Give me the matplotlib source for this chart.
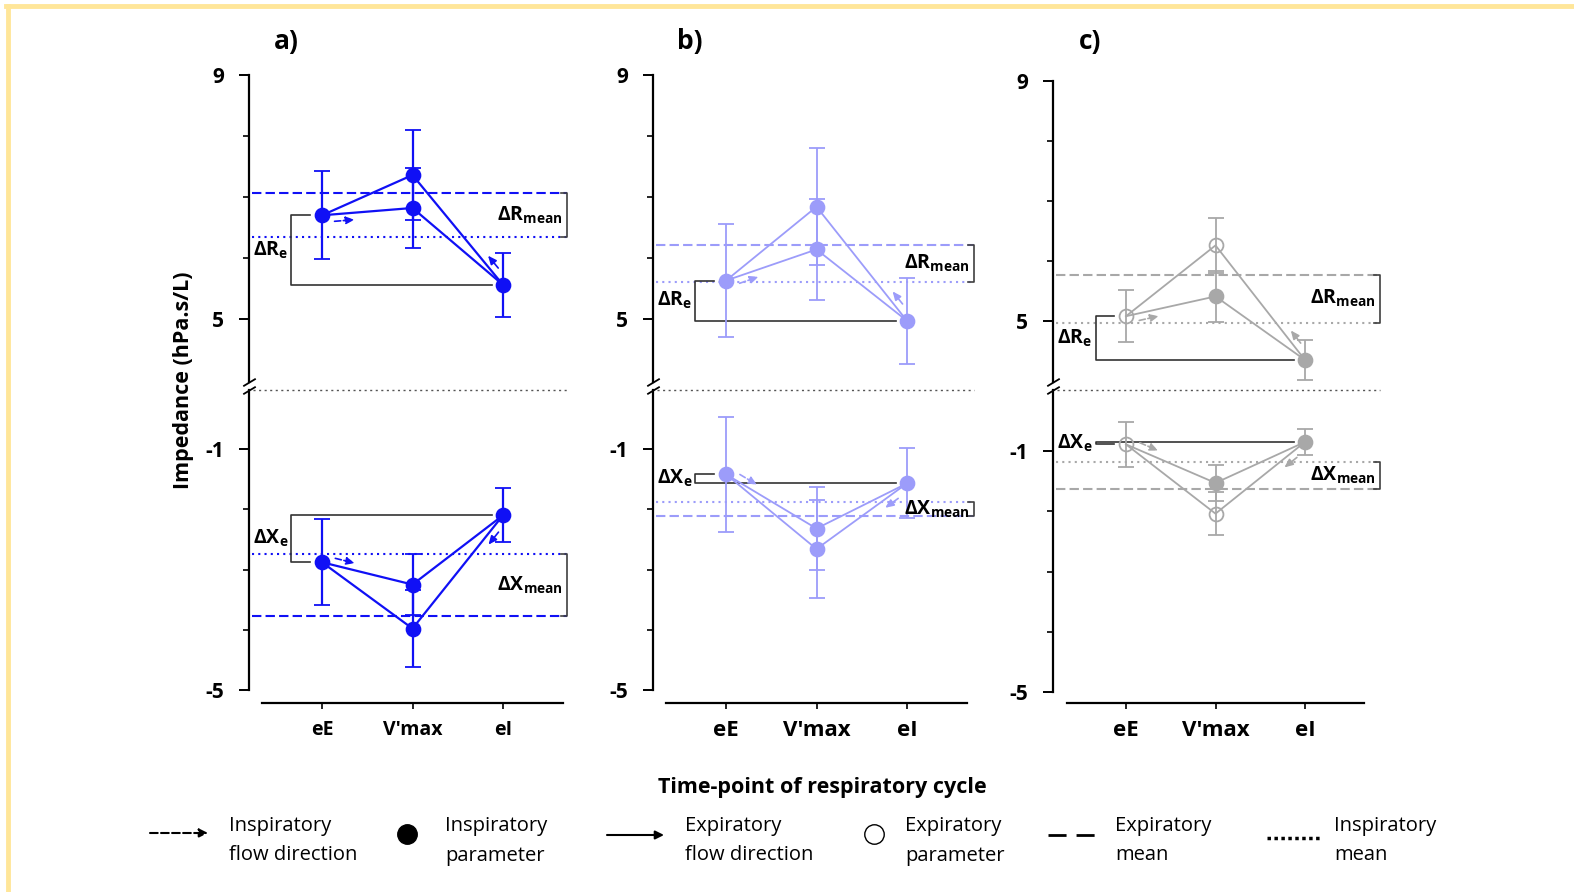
import matplotlib
matplotlib.use('Agg')
import matplotlib.pyplot as plt
import numpy as np
from matplotlib.lines import Line2D

plt.rcParams['font.family'] = ['Open Sans', 'DejaVu Sans']
plt.rcParams['mathtext.fontset'] = 'custom'
plt.rcParams['mathtext.rm'] = 'Open Sans'
plt.rcParams['mathtext.bf'] = 'Open Sans:bold'
plt.rcParams['mathtext.it'] = 'Open Sans:italic'

categories = ['eE', "V'max", 'eI']
panel_labels = ['a)', 'b)', 'c)']
colors = ['#1010F5', '#9C9CFA', '#A8A8A8']
open_exp = [False, False, True]   # expiratory points drawn as open circles

# resistance (upper half): eE, V'max inspiratory, V'max expiratory, eI
r_ee = [6.70, 5.63, 5.08]
r_vi = [6.82, 6.14, 5.41]
r_ve = [7.36, 6.84, 6.26]
r_ei = [5.56, 4.97, 4.35]
r_ee_sd = [0.72, 0.93, 0.43]
r_vi_sd = [0.65, 0.83, 0.43]
r_ve_sd = [0.74, 0.96, 0.46]
r_ei_sd = [0.53, 0.70, 0.34]
r_mean_exp = [7.07, 6.22, 5.77]
r_mean_insp = [6.34, 5.60, 4.97]

# reactance (lower half)
x_ee = [-2.88, -1.42, -0.89]
x_vi = [-3.25, -2.32, -1.53]
x_ve = [-3.98, -2.66, -2.04]
x_ei = [-2.10, -1.57, -0.85]
x_ee_sd = [0.71, 0.95, 0.37]
x_vi_sd = [0.50, 0.69, 0.30]
x_ve_sd = [0.64, 0.82, 0.36]
x_ei_sd = [0.45, 0.58, 0.21]
x_mean_exp = [-3.78, -2.11, -1.63]
x_mean_insp = [-2.75, -1.88, -1.19]

# layout of each panel in pixels: spine x, eE x, px per category, y of 9, 5, -1, -5
geom = [(249, 322, 90.5, 75, 319, 449, 690),
        (653, 726, 90.5, 75, 319, 449, 690),
        (1053, 1126, 89.5, 81, 321, 451, 692)]
bracket_x = [2.71, 2.74, 2.84]
cat_fs = [14, 16, 16]

W, H = 1574, 892
fig = plt.figure(figsize=(W / 100, H / 100), dpi=100)

# pale yellow frame on top and left
fig.add_artist(Line2D([6 / W, 1], [1 - 6 / H] * 2, color='#FFE699', lw=3.5))
fig.add_artist(Line2D([8 / W] * 2, [0, 1 - 6 / H], color='#FFE699', lw=3.5))


def px_axes(x0, y0, x1, y1):
    return fig.add_axes([x0 / W, 1 - y1 / H, (x1 - x0) / W, (y1 - y0) / H])


def flow_arrow(ax, p0, p1, dist, length, side, ls, color):
    a = ax.transData.transform(p0)
    b = ax.transData.transform(p1)
    u = (b - a) / np.hypot(*(b - a))
    n = np.array([-u[1], u[0]])
    if (side == 'right' and n[0] < 0) or (side == 'up' and n[1] < 0) or (side == 'down' and n[1] > 0):
        n = -n
    s = a + u * dist + n * 7
    e = s + u * length
    ax.annotate('', xy=e, xytext=s, xycoords='figure pixels', textcoords='figure pixels',
                arrowprops=dict(arrowstyle='-|>,head_length=0.5,head_width=0.22', ls=ls,
                                lw=1.2, color=color, shrinkA=0, shrinkB=0))


def draw_half(ax, ee, vi, ve, ei, sds, m_exp, m_insp, color, opn, xlo, xb, name, top):
    lw = 1.6 if color == colors[0] else 1.3
    ax.plot([0, 1, 2], [ee, vi, ei], color=color, lw=lw, zorder=2)
    ax.plot([0, 1, 2], [ee, ve, ei], color=color, lw=lw, zorder=2)
    pts = [(0, ee, sds[0], opn), (1, vi, sds[1], False), (1, ve, sds[2], opn), (2, ei, sds[3], False)]
    for px, py, sd, o in pts:
        ax.errorbar(px, py, yerr=sd, fmt='o', ms=10, color=color, mfc='none' if o else color,
                    mew=1.3, capsize=5.5, elinewidth=lw, capthick=lw, zorder=3, clip_on=False)
    # mean lines with bracket
    ax.plot([xlo + 0.03, xb], [m_exp] * 2, color=color, lw=1.5, dashes=(4.5, 2), zorder=1)
    ax.plot([xlo + 0.03, xb], [m_insp] * 2, color=color, lw=1.5, dashes=(1, 2), zorder=1)
    ax.plot([xb - 0.07, xb, xb, xb - 0.07], [m_exp, m_exp, m_insp, m_insp], color='#404040', lw=1.2)
    ax.annotate(r'$\mathbf{\Delta %s_{mean}}$' % name, xy=(xb, (m_exp + m_insp) / 2),
                xytext=(-3, 0), textcoords='offset points', ha='right', va='center', fontsize=14)
    # end-expiration to end-inspiration bracket
    xe = -0.34
    ax.plot([-0.13, xe, xe, 1.88], [ee, ee, ei, ei], color='#333333', lw=1.2, zorder=1)
    ax.annotate(r'$\mathbf{\Delta %s_e}$' % name, xy=(xe, (ee + ei) / 2),
                xytext=(-2, 0), textcoords='offset points', ha='right', va='center', fontsize=14)
    # flow direction arrows
    flow_arrow(ax, (0, ee), (1, vi), 12, 20, 'down' if top else 'up', '--', color)
    flow_arrow(ax, (2, ei), (1, ve), 16, 16, 'right', '-', color)


for i in range(3):
    sx, ex, step, y9, y5, ym1, ym5 = geom[i]
    xlo = -(ex - sx) / step
    xhi = (sx + 345 - ex) / step
    ppu = (y5 - y9) / 4
    ppu2 = (ym5 - ym1) / 4

    top = px_axes(sx, y9, sx + 345, 382)
    top.set_xlim(xlo, xhi)
    top.set_ylim(9 - (382 - y9) / ppu, 9)
    bot = px_axes(sx, 390, sx + 345, 703)
    bot.set_xlim(xlo, xhi)
    ytop = -1 + (ym1 - 390) / ppu2
    bot.set_ylim(-5 - (703 - ym5) / ppu2, ytop)

    for ax in (top, bot):
        ax.patch.set_alpha(0)
        ax.spines[['top', 'right']].set_visible(False)
        ax.spines['left'].set_linewidth(1.6)
        ax.spines['bottom'].set_linewidth(1.6)
        ax.tick_params(axis='y', which='major', length=7, width=1.4, pad=11)
        ax.tick_params(axis='y', which='minor', length=4, width=1.2)
    top.spines['bottom'].set_visible(False)
    top.xaxis.set_visible(False)
    top.set_yticks([5, 9], labels=['5', '9'], fontweight='bold', fontsize=15)
    top.set_yticks([6, 7, 8], minor=True)
    bot.set_yticks([-5, -1], labels=['-5', '-1'], fontweight='bold', fontsize=15)
    bot.set_yticks([-4, -3, -2], minor=True)
    bot.spines['left'].set_bounds(-5, ytop)
    bot.spines['bottom'].set_bounds(-0.66, 2.66)
    bot.set_xticks([0, 1, 2], labels=categories, fontweight='bold', fontsize=cat_fs[i])
    bot.tick_params(axis='x', length=4, width=1.2, pad=8)

    # axis break marks and dotted break line
    kw = dict(marker=[(-1, -0.6), (1, 0.6)], markersize=9, ls='none', color='k', mec='k',
              mew=1.3, clip_on=False)
    top.plot([0], [0], transform=top.transAxes, **kw)
    bot.plot([0], [1], transform=bot.transAxes, **kw)
    bot.plot([xlo + 0.04, bracket_x[i]], [ytop, ytop], color='#555555', lw=1, dashes=(1.5, 2.5),
             clip_on=False)

    draw_half(top, r_ee[i], r_vi[i], r_ve[i], r_ei[i],
              [r_ee_sd[i], r_vi_sd[i], r_ve_sd[i], r_ei_sd[i]],
              r_mean_exp[i], r_mean_insp[i], colors[i], open_exp[i], xlo, bracket_x[i], 'R', True)
    draw_half(bot, x_ee[i], x_vi[i], x_ve[i], x_ei[i],
              [x_ee_sd[i], x_vi_sd[i], x_ve_sd[i], x_ei_sd[i]],
              x_mean_exp[i], x_mean_insp[i], colors[i], open_exp[i], xlo, bracket_x[i], 'X', False)

    fig.text((sx + 37) / W, 1 - 42 / H, panel_labels[i], fontsize=19, fontweight='bold',
             ha='center', va='center')

fig.text(183 / W, 1 - 380 / H, 'Impedance (hPa.s/L)', rotation=90, fontsize=15.5,
         fontweight='bold', ha='center', va='center')
fig.text(822 / W, 1 - 787 / H, 'Time-point of respiratory cycle', fontsize=15.5,
         fontweight='bold', ha='center', va='center')

# legend row
leg = fig.add_axes([0, 0, 1, 1], zorder=-1)
leg.set_xlim(0, W)
leg.set_ylim(H, 0)
leg.axis('off')
leg.annotate('', xy=(208, 833), xytext=(150, 833),
             arrowprops=dict(arrowstyle='-|>,head_length=0.5,head_width=0.25', ls='--', lw=1.5,
                             color='k', shrinkA=0, shrinkB=0))
leg.plot([407], [834], 'o', ms=14, color='k')
leg.annotate('', xy=(664, 835), xytext=(607, 835),
             arrowprops=dict(arrowstyle='-|>,head_length=0.5,head_width=0.25', lw=1.5,
                             color='k', shrinkA=0, shrinkB=0))
leg.plot([874], [834], 'o', ms=14, mfc='none', mec='k', mew=1)
leg.plot([1048, 1095], [835, 835], color='k', lw=2, dashes=(6.5, 3.6))
leg.plot([1267, 1322], [838, 838], color='k', lw=2.5, dashes=(1, 1))
legend_texts = ['Inspiratory\nflow direction', 'Inspiratory\nparameter', 'Expiratory\nflow direction',
                'Expiratory\nparameter', 'Expiratory\nmean', 'Inspiratory\nmean']
legend_x = [229, 445, 685, 905, 1115, 1334]
for tx, t in zip(legend_x, legend_texts):
    leg.text(tx, 841, t, fontsize=14.5, ha='left', va='center', linespacing=1.6)

fig.savefig('out.png', dpi=100)
